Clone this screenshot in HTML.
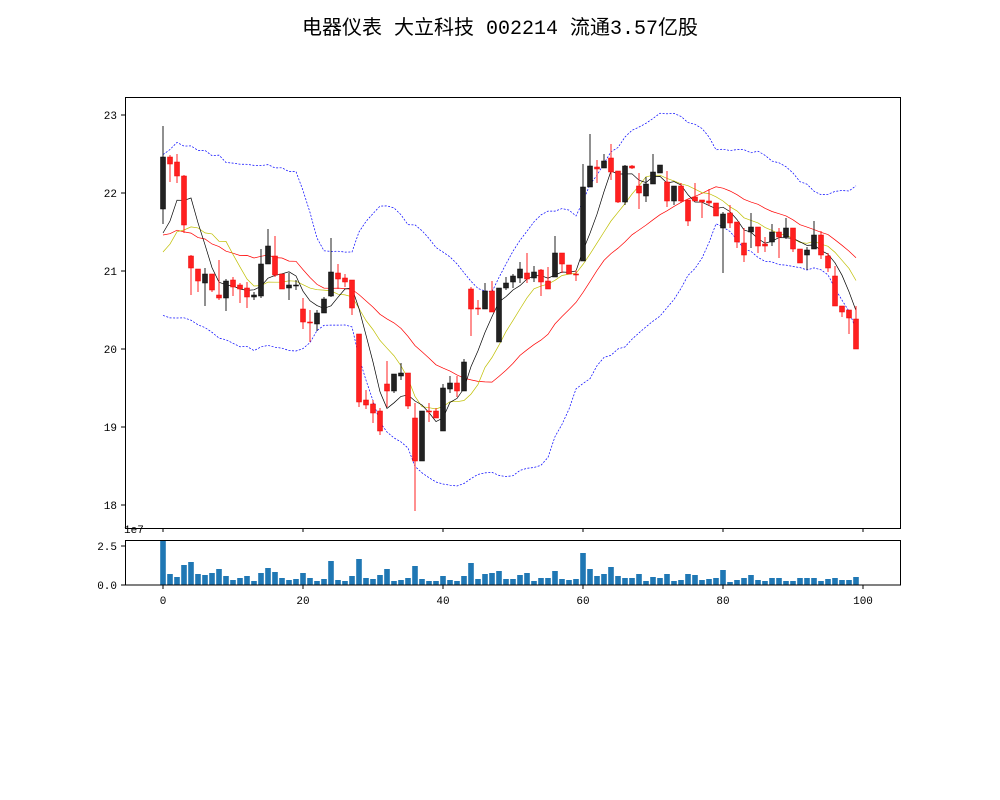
<!DOCTYPE html>
<html><head><meta charset="utf-8"><style>
body{margin:0;background:#fff;}
svg{display:block;font-family:"Liberation Mono","WenQuanYi Zen Hei",monospace;}
</style></head><body>
<svg id="s" width="1000" height="800" xmlns="http://www.w3.org/2000/svg">
<rect width="1000" height="800" fill="#fff"/>
<text x="500" y="34" text-anchor="middle" font-size="20" font-family="'Liberation Mono','WenQuanYi Zen Hei',monospace">电器仪表 大立科技 002214 流通3.57亿股</text>
<g id="g"></g>
</svg>
<script>
var C=[[157,209,126,224,'b'],[157,164,155,182,'r'],[162,176,154,183,'r'],[176,225,175,233,'r'],[256,268,255,295,'r'],
[269,281,269,292,'r'],[274,283,268,306,'b'],[274,290,274,292,'r'],[295,298,260,300,'r'],[281,298,279,311,'b'],
[280,287,277,296,'r'],[285,289,283,303,'r'],[288,297,282,308,'r'],[295,297,292,300,'b'],[264,296,249,298,'b'],
[246,264,229,264,'b'],[256,275,236,277,'r'],[274,289,274,289,'r'],[285,288,273,300,'b'],[285,286,280,290,'b'],
[309,322,298,329,'r'],[322,323,310,342,'r'],[313,324,310,331,'b'],[299,313,297,313,'b'],[272,296,238,297,'b'],
[273,279,264,289,'r'],[278,282,274,287,'r'],[280,308,280,315,'r'],[334,402,334,407,'r'],[400,405,390,409,'r'],
[404,413,400,423,'r'],[411,431,408,435,'r'],[384,391,361,407,'r'],[374,391,374,393,'b'],[373,376,363,380,'b'],
[373,406,373,409,'r'],[418,461,403,511,'r'],[411,461,411,461,'b'],[411,412,403,422,'r'],[411,418,408,418,'r'],
[388,431,384,431,'b'],[383,389,376,393,'b'],[383,391,376,397,'r'],[362,391,359,391,'b'],[289,309,287,336,'r'],
[308,309,300,315,'r'],[291,309,283,309,'b'],[291,312,281,312,'r'],[288,342,288,342,'b'],[283,288,277,290,'b'],
[276,282,274,288,'b'],[269,278,262,283,'b'],[273,279,253,283,'r'],[272,278,266,282,'b'],[270,282,269,296,'r'],
[281,289,267,289,'r'],[253,277,236,277,'b'],[253,264,253,273,'r'],[265,274,265,274,'r'],[274,275,270,281,'r'],
[187,261,164,261,'b'],[166,187,134,187,'b'],[167,169,160,183,'r'],[161,168,154,168,'b'],[158,172,144,180,'r'],
[171,202,171,203,'r'],[166,202,165,205,'b'],[166,168,165,169,'r'],[186,193,173,209,'r'],[184,196,177,202,'b'],
[172,184,154,184,'b'],[165,173,165,173,'b'],[182,201,171,207,'r'],[186,201,186,205,'b'],[186,201,183,203,'r'],
[200,221,200,226,'r'],[197,201,183,201,'r'],[200,202,200,218,'r'],[201,203,189,206,'r'],[203,216,203,216,'r'],
[214,228,212,273,'b'],[213,223,205,228,'r'],[222,242,222,248,'r'],[243,255,228,262,'r'],[227,232,213,248,'b'],
[227,246,227,253,'r'],[244,246,237,252,'r'],[232,242,224,246,'b'],[232,237,228,258,'r'],[228,237,218,239,'b'],
[228,249,228,252,'r'],[249,263,249,263,'r'],[250,255,247,270,'b'],[235,249,221,249,'b'],[235,255,231,259,'r'],
[256,268,253,272,'r'],[276,306,266,306,'r'],[306,312,306,317,'r'],[310,318,310,334,'r'],[319,349,306,349,'r']];
var VZ=[18,117,126,90,81,117,120,114,102,123,135,129,123,138,114,99,111,129,135,132,114,129,138,132,78,135,138,123,72,129,132,120,102,138,135,129,93,132,138,138,123,135,138,123,84,132,117,114,108,132,
132,120,114,138,129,129,108,132,135,132,54,102,123,117,96,123,129,129,117,138,126,129,117,138,135,117,120,135,132,129,105,141,135,129,120,135,138,129,129,138,138,129,129,129,138,132,129,135,135,126];
var h='';
function X(i){return 163+7*i;}
var closes=C.map(function(c){return c[4]=='r'?c[1]:c[0];});
var pre=[190,246,190,246,190,246,190,246,190,246,243,299,243,299,271,224,280,224,280];
var all=pre.concat(closes);
function ma(n,k){var s=0;for(var j=k-n+1;j<=k;j++)s+=all[j];return s/n;}
var p5=[],p10=[],p20=[],up=[],lo=[];
for(var i=0;i<100;i++){var k=i+19;
 p5.push(X(i)+','+ma(5,k).toFixed(1));p10.push(X(i)+','+ma(10,k).toFixed(1));
 var m=ma(20,k);p20.push(X(i)+','+m.toFixed(1));
 var v=0;for(var j=k-19;j<=k;j++)v+=(all[j]-m)*(all[j]-m);var sd=Math.sqrt(v/19);
 up.push(X(i)+','+(m-2*sd).toFixed(1));lo.push(X(i)+','+(m+2*sd).toFixed(1));}
h+='<polyline points="'+up.join(' ')+'" fill="none" stroke="#0000ff" stroke-width="0.7" stroke-dasharray="2,1.5"/>';
h+='<polyline points="'+lo.join(' ')+'" fill="none" stroke="#0000ff" stroke-width="0.7" stroke-dasharray="2,1.5"/>';
h+='<polyline points="'+p20.join(' ')+'" fill="none" stroke="#ff0000" stroke-width="0.7"/>';
h+='<polyline points="'+p10.join(' ')+'" fill="none" stroke="#bfbf00" stroke-width="0.7"/>';
h+='<polyline points="'+p5.join(' ')+'" fill="none" stroke="#000" stroke-width="0.7"/>';
for(var i=0;i<100;i++){var c=C[i],x=X(i),col=c[4]=='r'?'#ff2020':'#222';
 h+='<line x1="'+x+'" x2="'+x+'" y1="'+c[2]+'" y2="'+c[3]+'" stroke="'+col+'" stroke-width="1"/>';
 h+='<rect x="'+(x-2.5)+'" y="'+c[0]+'" width="5" height="'+Math.max(1,c[1]-c[0])+'" fill="'+col+'" stroke="'+(c[4]=='r'?'#e00':'#000')+'" stroke-width="0.5"/>';
 var t=535+VZ[i]/3;h+='<rect x="'+(x-2.8)+'" y="'+t.toFixed(1)+'" width="5.6" height="'+(585-t).toFixed(1)+'" fill="#1f77b4"/>';}
h+='<rect x="125.5" y="97.5" width="775" height="431" fill="none" stroke="#000" stroke-width="1"/>';
h+='<rect x="125.5" y="540.5" width="775" height="44.5" fill="none" stroke="#000" stroke-width="1"/>';
var yt=[[23,115],[22,193],[21,271],[20,349],[19,427],[18,505]];
yt.forEach(function(t){h+='<line x1="121" x2="125" y1="'+t[1]+'" y2="'+t[1]+'" stroke="#000"/><text x="117" y="'+(t[1]+4)+'" text-anchor="end" font-size="11">'+t[0]+'</text>';});
for(var i=0;i<=100;i+=20){h+='<line x1="'+X(i)+'" x2="'+X(i)+'" y1="528" y2="532" stroke="#000"/>';
 h+='<line x1="'+X(i)+'" x2="'+X(i)+'" y1="585" y2="589" stroke="#000"/><text x="'+X(i)+'" y="604" text-anchor="middle" font-size="11">'+i+'</text>';}
h+='<line x1="121" x2="125" y1="546" y2="546" stroke="#000"/><text x="117" y="550" text-anchor="end" font-size="11">2.5</text>';
h+='<line x1="121" x2="125" y1="585" y2="585" stroke="#000"/><text x="117" y="589" text-anchor="end" font-size="11">0.0</text>';
h+='<text x="124" y="533" font-size="11">1e7</text>';
document.getElementById('g').innerHTML=h;
</script>
</body></html>
